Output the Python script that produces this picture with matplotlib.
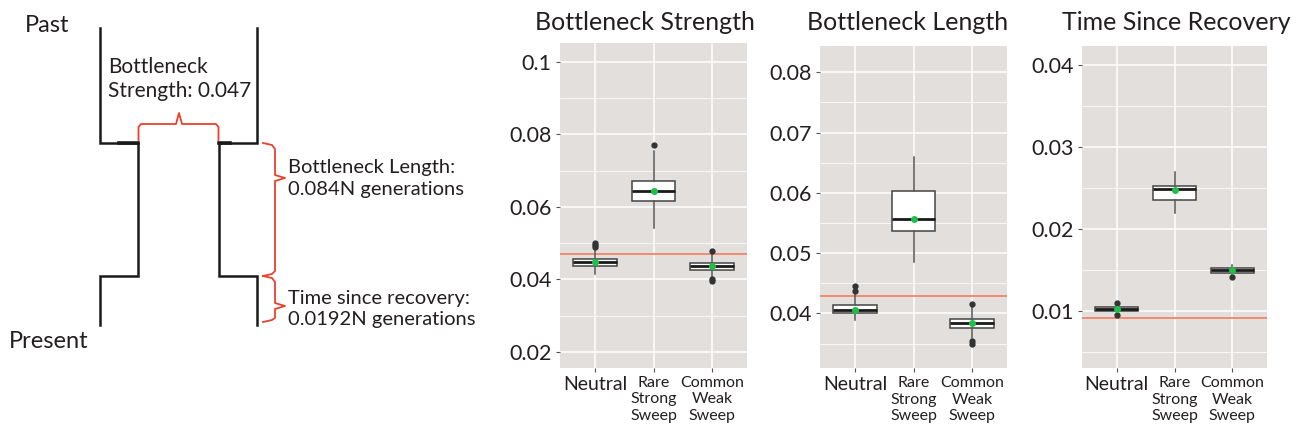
import matplotlib
matplotlib.use("Agg")
import matplotlib.pyplot as plt

plt.rcParams['font.family'] = ['Lato', 'DejaVu Sans']

# ---------------- data ----------------
categories = ["Neutral", "Rare\nStrong\nSweep", "Common\nWeak\nSweep"]

strength_whislo = [0.0416, 0.0542, 0.0408]
strength_q1 = [0.0437, 0.0616, 0.0427]
strength_med = [0.0447, 0.0644, 0.0437]
strength_q3 = [0.0457, 0.0671, 0.0446]
strength_whishi = [0.0485, 0.0755, 0.0475]
strength_fliers = [[0.0490, 0.0495, 0.0500], [0.0770], [0.0478, 0.0400, 0.0396]]
strength_mean = [0.0448, 0.0645, 0.0438]
strength_ref = 0.047

length_whislo = [0.0389, 0.0486, 0.0359]
length_q1 = [0.0400, 0.0537, 0.0376]
length_med = [0.0405, 0.0557, 0.0384]
length_q3 = [0.0414, 0.0603, 0.0391]
length_whishi = [0.0432, 0.0660, 0.0410]
length_fliers = [[0.0438, 0.0445], [], [0.0415, 0.0355, 0.0350]]
length_mean = [0.0405, 0.0556, 0.0384]
length_ref = 0.0429

recovery_whislo = [0.0097, 0.0220, 0.0145]
recovery_q1 = [0.0100, 0.02355, 0.0147]
recovery_med = [0.01025, 0.0249, 0.0150]
recovery_q3 = [0.0105, 0.0253, 0.01526]
recovery_whishi = [0.0109, 0.0270, 0.0156]
recovery_fliers = [[0.0110, 0.00956], [], [0.0142]]
recovery_mean = [0.0103, 0.0248, 0.0150]
recovery_ref = 0.0092

panel_titles = ["Bottleneck Strength", "Bottleneck Length", "Time Since Recovery"]
strength_ticks = [0.02, 0.04, 0.06, 0.08, 0.1]
strength_tick_labels = ["0.02", "0.04", "0.06", "0.08", "0.1"]
length_ticks = [0.04, 0.05, 0.06, 0.07, 0.08]
length_tick_labels = ["0.04", "0.05", "0.06", "0.07", "0.08"]
recovery_ticks = [0.01, 0.02, 0.03, 0.04]
recovery_tick_labels = ["0.01", "0.02", "0.03", "0.04"]

# schematic annotation texts
diagram_texts = ["Past", "Present", "Bottleneck\nStrength: 0.047",
                 "Bottleneck Length:\n0.084N generations",
                 "Time since recovery:\n0.0192N generations"]

W, H = 1299, 433
fig = plt.figure(figsize=(W / 100, H / 100), dpi=100)
fig.patch.set_facecolor("white")

# ---------------- schematic ----------------
dax = fig.add_axes([0, 0, 500 / W, 1])
dax.set_xlim(0, 500)
dax.set_ylim(H, 0)
dax.axis("off")
wall_y = [28, 143, 143, 276, 276, 325]
left_wall_x = [100, 100, 138, 138, 100, 100]
right_wall_x = [257, 257, 219, 219, 257, 257]
dax.plot(left_wall_x, wall_y, color="#1a1a1a", lw=1.8, solid_joinstyle="miter")
dax.plot(right_wall_x, wall_y, color="#1a1a1a", lw=1.8, solid_joinstyle="miter")
dax.plot([119, 138], [143, 143], color="#1a1a1a", lw=2.6)
dax.plot([219, 230], [143, 143], color="#1a1a1a", lw=2.6)

red = "#e8412c"
top_brace_x = [138.5, 138.5, 141, 176, 179, 182, 216, 218.5, 218.5]
top_brace_y = [140, 127, 124, 124, 113, 124, 124, 127, 140]
dax.plot(top_brace_x, top_brace_y, color=red, lw=1.3)
brace1_x = [263, 272, 275, 275, 285, 275, 275, 272, 263]
brace1_y = [143, 145, 149, 175, 178, 181, 271, 274, 276]
dax.plot(brace1_x, brace1_y, color=red, lw=1.3)
brace2_x = [263, 272, 275, 275, 285, 275, 275, 272, 263]
brace2_y = [276, 278, 282, 303, 306, 309, 318, 320, 322]
dax.plot(brace2_x, brace2_y, color=red, lw=1.3)

tcol = "#231f20"
dax.text(25, 25, diagram_texts[0], fontsize=17, color=tcol, va="center", ha="left")
dax.text(9, 341, diagram_texts[1], fontsize=17, color=tcol, va="center", ha="left")
dax.text(108, 79, diagram_texts[2], fontsize=15, color=tcol, va="center", ha="left",
         linespacing=1.25)
dax.text(288, 178.5, diagram_texts[3], fontsize=14.5, color=tcol, va="center", ha="left",
         linespacing=1.3)
dax.text(288, 309, diagram_texts[4], fontsize=14.5, color=tcol, va="center", ha="left",
         linespacing=1.3)

# ---------------- box plot panels ----------------
panels = [
    dict(rect=(560, 43, 747, 368), ylim=(0.0156, 0.1052),
         ticks=strength_ticks, labels=strength_tick_labels,
         minor=[0.03, 0.05, 0.07, 0.09],
         stats=(strength_whislo, strength_q1, strength_med, strength_q3, strength_whishi,
                strength_fliers, strength_mean), ref=strength_ref,
         title_x=535),
    dict(rect=(820, 45.7, 1007, 368.3), ylim=(0.0309, 0.0844),
         ticks=length_ticks, labels=length_tick_labels,
         minor=[0.035, 0.045, 0.055, 0.065, 0.075],
         stats=(length_whislo, length_q1, length_med, length_q3, length_whishi,
                length_fliers, length_mean), ref=length_ref,
         title_x=807),
    dict(rect=(1082, 45.7, 1267, 368.3), ylim=(0.0030, 0.0424),
         ticks=recovery_ticks, labels=recovery_tick_labels,
         minor=[0.005, 0.015, 0.025, 0.035],
         stats=(recovery_whislo, recovery_q1, recovery_med, recovery_q3, recovery_whishi,
                recovery_fliers, recovery_mean), ref=recovery_ref,
         title_x=1062),
]

bg = "#e3dfdd"
positions = [1, 2, 3]
for i, p in enumerate(panels):
    x0, y0, x1, y1 = p["rect"]
    ax = fig.add_axes([x0 / W, 1 - y1 / H, (x1 - x0) / W, (y1 - y0) / H])
    ax.set_facecolor(bg)
    for s in ax.spines.values():
        s.set_visible(False)

    wlo, q1, med, q3, whi, fl, mn = p["stats"]
    bstats = []
    for k in range(3):
        bstats.append(dict(whislo=wlo[k], q1=q1[k], med=med[k], q3=q3[k],
                           whishi=whi[k], fliers=fl[k], mean=mn[k]))
    ax.bxp(bstats, positions=positions, widths=0.75, patch_artist=True,
           showmeans=True, showcaps=False, manage_ticks=False,
           boxprops=dict(facecolor="white", edgecolor="#444444", lw=1.1),
           medianprops=dict(color="#1a1a1a", lw=2.0),
           whiskerprops=dict(color="#555555", lw=1.1),
           flierprops=dict(marker="o", markerfacecolor="#333333",
                           markeredgecolor="#333333", markersize=3.5),
           meanprops=dict(marker="o", markerfacecolor="#1fbf4a",
                          markeredgecolor="#1fbf4a", markersize=4),
           zorder=3)
    ax.axhline(p["ref"], color="#f0876a", lw=1.3, zorder=2)

    ax.set_xlim(0.4, 3.6)
    ax.set_ylim(*p["ylim"])
    ax.set_yticks(p["ticks"])
    ax.set_yticklabels(p["labels"])
    ax.set_yticks(p["minor"], minor=True)
    ax.grid(True, which="major", color="white", lw=1.1, zorder=0)
    ax.grid(True, which="minor", color="white", lw=0.55, zorder=0)
    ax.set_axisbelow(True)
    ax.tick_params(axis="y", which="major", length=3, width=0.8, color="#555555",
                   labelsize=15.5, labelcolor="#231f20", pad=3)
    ax.tick_params(axis="y", which="minor", length=0)
    ax.tick_params(axis="x", length=3, width=0.8, color="#555555", pad=2.5,
                   labelcolor="#231f20")
    ax.set_xticks(positions)
    ax.set_xticklabels(categories, linespacing=1.25)
    for j, lab in enumerate(ax.get_xticklabels()):
        lab.set_fontsize(14 if j == 0 else 11.5)

    fig.text(p["title_x"] / W, 1 - 22 / H, panel_titles[i], fontsize=18,
             color="#231f20", ha="left", va="center")

fig.savefig("out.png", dpi=100, facecolor="white")
